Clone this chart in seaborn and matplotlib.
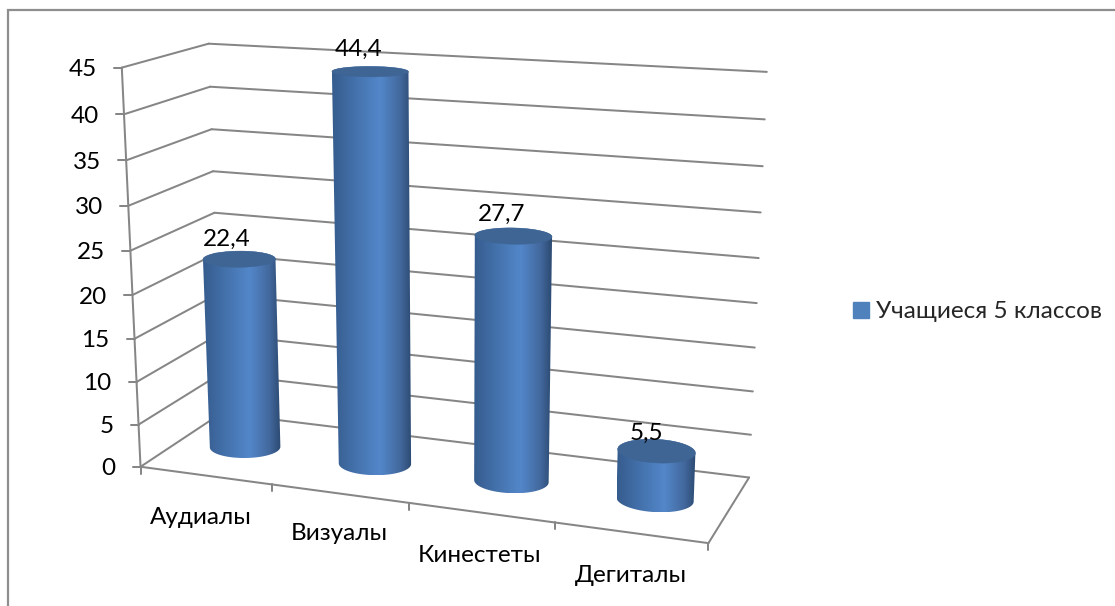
import numpy as np
import pandas as pd
import matplotlib
matplotlib.use("Agg")
import matplotlib.pyplot as plt
from matplotlib.colors import LinearSegmentedColormap
from matplotlib.patches import Patch, Polygon
import seaborn as sns

# ---- data ----
categories = ["Аудиалы", "Визуалы", "Кинестеты", "Дегиталы"]
values = [22.4, 44.4, 27.7, 5.5]
value_labels = ["22,4", "44,4", "27,7", "5,5"]
series_name = "Учащиеся 5 классов"
axis_ticks = [0, 5, 10, 15, 20, 25, 30, 35, 40, 45]

# ---- style / layout ----
W, H = 1115, 606
GRID = "#868686"
FRAME = "#8e8e8e"
TOP = "#3e6594"
LEGEND = "#4f81bd"
FS = 17.5
FONT = ["Lato", "Noto Sans", "DejaVu Sans"]
RX, RD = 0.255, 0.185
LW = 1.45
label_shift = [(-13, -20), (-12, -22), (-12, -22), (-10, -18)]
cat_label_xy = [(201, 518), (339, 534), (480, 556), (631, 576)]

sns.set_theme(style="white")
plt.rcParams["font.family"] = FONT

# perspective camera of the 3-D chart box: (category, depth, value/45) -> pixels
ref3d = np.array([
    (0, 0, 0), (0, 0, 1), (0, 1, 0), (0, 1, 1), (4, 1, 0), (4, 1, 1), (4, 0, 0),
    (1, 0, 0), (2, 0, 0), (3, 0, 0), (0, 0, 25 / 45), (4, 1, 25 / 45), (0, 1, 25 / 45),
], float)
ref2d = np.array([
    (140, 467), (122, 68), (222, 413), (208, 44), (749, 477), (767, 72), (708, 543),
    (272, 485), (409, 503), (555, 523), (131, 249), (759, 258), (214, 213),
], float) / 1000
A = []
for (X, Y, Z), (u, v) in zip(ref3d, ref2d):
    A.append([X, Y, Z, 1, 0, 0, 0, 0, -u * X, -u * Y, -u * Z, -u])
    A.append([0, 0, 0, 0, X, Y, Z, 1, -v * X, -v * Y, -v * Z, -v])
P = np.linalg.svd(np.array(A))[2][-1].reshape(3, 4)


def project(x, d, val):
    x, d, val = np.broadcast_arrays(np.asarray(x, float), np.asarray(d, float), np.asarray(val, float))
    q = P @ np.vstack([x.ravel(), d.ravel(), val.ravel() / 45.0, np.ones(x.size)])
    return q[0] / q[2] * 1000, q[1] / q[2] * 1000


def hull(points):
    pts = sorted(map(tuple, points))

    def half(seq):
        out = []
        for p in seq:
            while len(out) > 1 and ((out[-1][0] - out[-2][0]) * (p[1] - out[-2][1])
                                    - (out[-1][1] - out[-2][1]) * (p[0] - out[-2][0])) <= 0:
                out.pop()
            out.append(p)
        return out[:-1]

    return np.array(half(pts) + half(pts[::-1]))


fig = plt.figure(figsize=(W / 100, H / 100), dpi=100)
ax = fig.add_axes([0, 0, 1, 1])

# wire-frame of the chart box as tidy rows
rows = []


def seg(name, a, b):
    xs, ys = project(*np.array([a, b]).T)
    for px, py in zip(xs, ys):
        rows.append({"line": name, "px": px, "py": py})


for t in axis_ticks:
    seg(f"wall{t}", (0, 0, t), (0, 1, t))
    seg(f"back{t}", (0, 1, t), (4, 1, t))
seg("axis", (0, 0, 0), (0, 0, 45))
seg("front", (0, 0, 0), (4, 0, 0))
seg("right", (4, 0, 0), (4, 1, 0))
frame = pd.DataFrame(rows)
sns.lineplot(data=frame, x="px", y="py", units="line", estimator=None, sort=False,
             color=GRID, lw=LW, legend=False, ax=ax, zorder=1)

# tick marks
for t in axis_ticks:
    px, py = project(0, 0, t)
    ax.plot([px[0] - 8, px[0]], [py[0], py[0]], color=GRID, lw=LW, zorder=1)
    ax.text(px[0] - 25, py[0] + 2, str(t), ha="right", va="center", fontsize=FS, color="black")
for i in range(len(categories) + 1):
    px, py = project(i, 0, 0)
    ax.plot([px[0], px[0]], [py[0], py[0] + 7], color=GRID, lw=LW, zorder=1)

# cylinders
cmap = LinearSegmentedColormap.from_list("cyl", [(0, "#365c8e"), (0.3, "#4472ac"), (0.6, "#5387ca"),
                                                  (0.85, "#43699e"), (1, "#2c4a72")])
grad = np.linspace(0, 1, 256)[None, :]
full = np.linspace(0, 2 * np.pi, 181)
for i, val in enumerate(values):
    cx = i + 0.5
    rim_x, rim_d = cx + RX * np.cos(full), 0.5 + RD * np.sin(full)
    bx, by = project(rim_x, rim_d, 0)
    tx, ty = project(rim_x, rim_d, val)
    outline = hull(np.r_[np.c_[bx, by], np.c_[tx, ty]])
    z = 3 + i * 0.1
    im = ax.imshow(grad, cmap=cmap, aspect="auto", interpolation="bilinear",
                   extent=(outline[:, 0].min(), outline[:, 0].max(), outline[:, 1].max(), outline[:, 1].min()),
                   zorder=z)
    clip = Polygon(outline, closed=True, transform=ax.transData, fc="none", ec="none")
    ax.add_patch(clip)
    im.set_clip_path(clip)
    ax.fill(tx, ty, color=TOP, lw=0.3, zorder=z + 0.01)
    lx, ly = project(cx, 0.5, val)
    ax.text(lx[0] + label_shift[i][0], ly[0] + label_shift[i][1], value_labels[i], ha="center", va="center",
            fontsize=FS, color="black", zorder=6)
    ax.text(*cat_label_xy[i], categories[i], ha="center", va="center", fontsize=FS, color="black")

# chart frame
ax.plot([8, 8, W], [H, 10, 10], color=FRAME, lw=1.6, zorder=0, solid_joinstyle="miter")

ax.set_xlim(0, W)
ax.set_ylim(H, 0)
ax.axis("off")

ax.legend(handles=[Patch(color=LEGEND, label=series_name)], loc="center left",
          bbox_to_anchor=(846, 312), bbox_transform=ax.transData, frameon=False, fontsize=FS,
          handlelength=0.65, handleheight=0.65, handletextpad=0.3, borderpad=0, borderaxespad=0.3)

fig.savefig("out.png", dpi=100)
